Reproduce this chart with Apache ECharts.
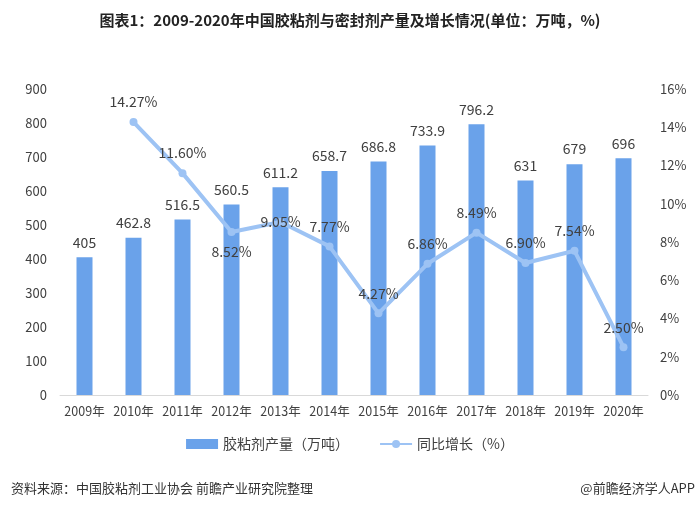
<!DOCTYPE html>
<html>
<head>
<meta charset="utf-8">
<script src="https://cdn.jsdelivr.net/npm/echarts@6/dist/echarts.min.js"></script>
<style>
  html, body { margin: 0; padding: 0; background: #fff; }
  #chart { width: 700px; height: 508px; }
</style>
</head>
<body>
<div id="chart"></div>
<script>
const years = ["2009年", "2010年", "2011年", "2012年", "2013年", "2014年", "2015年", "2016年", "2017年", "2018年", "2019年", "2020年"];
const output = [405, 462.8, 516.5, 560.5, 611.2, 658.7, 686.8, 733.9, 796.2, 631, 679, 696];
const growth = [null, 14.27, 11.6, 8.52, 9.05, 7.77, 4.27, 6.86, 8.49, 6.9, 7.54, 2.5];
// where each growth label sits relative to its point
const growthLabelPos = ["top", "top", "top", "bottom", "inside", "top", "top", "top", "top", "top", "top", "top"];

const font = '"Noto Sans CJK SC", "Microsoft YaHei", sans-serif';
const textColor = "#404040";

const chart = echarts.init(document.getElementById("chart"));

chart.setOption({
  animation: false,
  textStyle: { fontFamily: font },
  title: [
    {
      text: "图表1：2009-2020年中国胶粘剂与密封剂产量及增长情况(单位：万吨，%)",
      left: "center",
      top: 8,
      textStyle: { fontSize: 15, fontWeight: "bold", color: "#222", fontFamily: font },
    },
    {
      text: "资料来源：中国胶粘剂工业协会 前瞻产业研究院整理",
      left: 6,
      top: 477,
      textStyle: { fontSize: 13, fontWeight: "normal", color: "#333", fontFamily: font },
    },
    {
      text: "@前瞻经济学人APP",
      right: 0,
      top: 477,
      textStyle: { fontSize: 13, fontWeight: "normal", color: "#333", fontFamily: font },
    },
  ],
  legend: {
    top: 432,
    left: "center",
    itemGap: 30,
    itemWidth: 32,
    itemHeight: 10,
    textStyle: { fontSize: 14, color: textColor, fontFamily: font },
    data: [
      { name: "胶粘剂产量（万吨）", icon: "rect" },
      { name: "同比增长（%）" },
    ],
  },
  grid: { left: 60, right: 52, top: 89, bottom: 113 },
  xAxis: {
    type: "category",
    data: years,
    axisTick: { show: false },
    axisLine: { lineStyle: { color: "#d9d9d9", width: 1 } },
    axisLabel: { color: textColor, fontSize: 12.5, margin: 10, interval: 0 },
  },
  yAxis: [
    {
      type: "value",
      min: 0,
      max: 900,
      interval: 100,
      splitLine: { show: false },
      axisLine: { show: false },
      axisTick: { show: false },
      axisLabel: { color: textColor, fontSize: 13, margin: 13 },
    },
    {
      type: "value",
      min: 0,
      max: 16,
      interval: 2,
      splitLine: { show: false },
      axisLine: { show: false },
      axisTick: { show: false },
      axisLabel: { color: textColor, fontSize: 13, margin: 12, formatter: "{value}%" },
    },
  ],
  series: [
    {
      name: "胶粘剂产量（万吨）",
      type: "bar",
      barWidth: 16,
      itemStyle: { color: "#6aa2ea" },
      label: {
        show: true,
        position: "top",
        distance: 8,
        color: textColor,
        fontSize: 14,
      },
      data: output,
    },
    {
      name: "同比增长（%）",
      type: "line",
      yAxisIndex: 1,
      symbol: "circle",
      symbolSize: 8,
      lineStyle: { color: "#9dc3f4", width: 4 },
      itemStyle: { color: "#9dc3f4" },
      label: {
        show: true,
        color: textColor,
        fontSize: 14,
        distance: 9,
        formatter: (p) => p.value.toFixed(2) + "%",
      },
      data: growth.map((v, i) => ({
        value: v,
        label: { position: growthLabelPos[i] },
      })),
    },
  ],
});
</script>
</body>
</html>
